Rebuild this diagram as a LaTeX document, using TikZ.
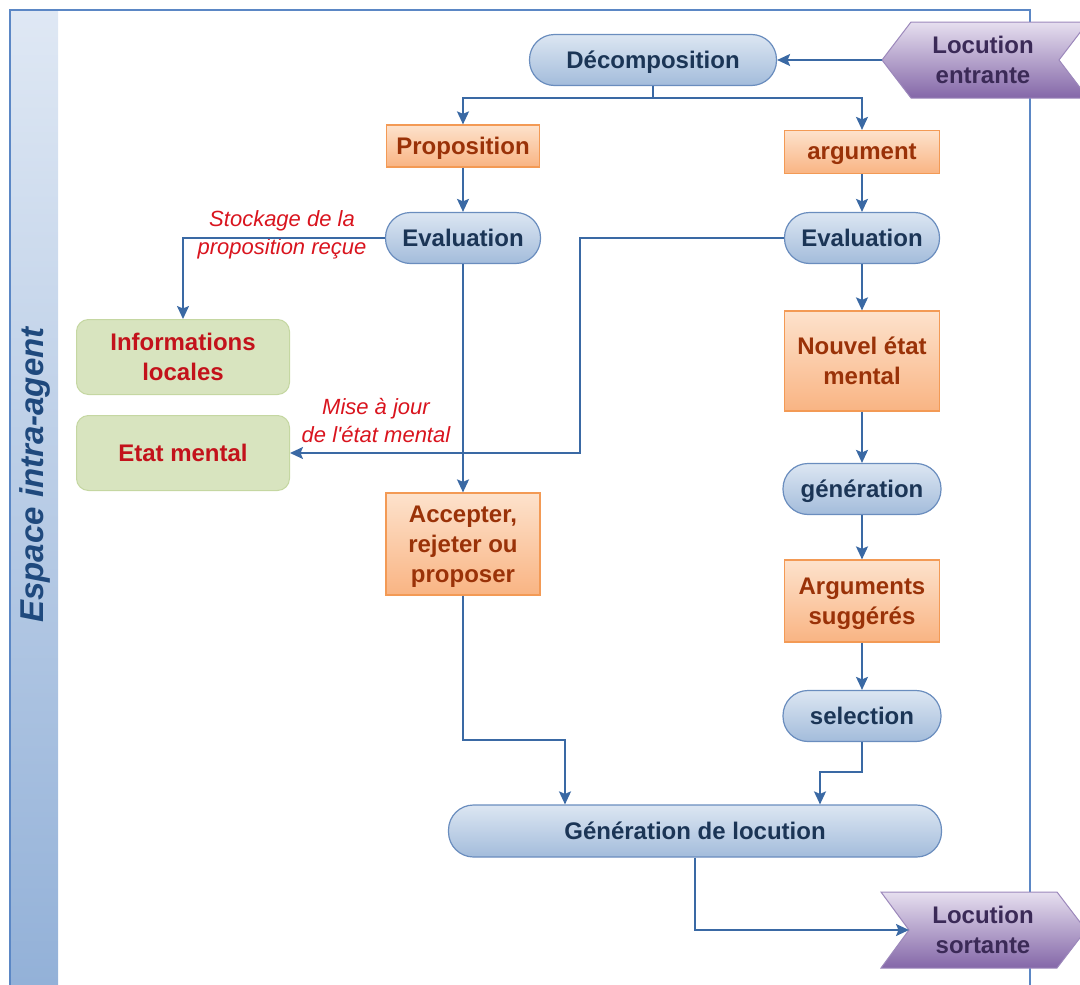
\documentclass[tikz,border=0pt]{standalone}
\usepackage{fontspec}
\setmainfont{Liberation Sans}
\usetikzlibrary{arrows.meta,calc}
\definecolor{framec}{HTML}{5B87C5}
\definecolor{bandtop}{HTML}{DFE8F4}
\definecolor{bandbot}{HTML}{93B1D8}
\definecolor{pilltop}{HTML}{DCE6F2}
\definecolor{pillbot}{HTML}{A3BCDB}
\definecolor{pillborder}{HTML}{6A8DBE}
\definecolor{pilltext}{HTML}{1B3556}
\definecolor{orgtop}{HTML}{FDE2CC}
\definecolor{orgbot}{HTML}{F9B483}
\definecolor{orgborder}{HTML}{F39A55}
\definecolor{orgtext}{HTML}{9A3208}
\definecolor{grnfill}{HTML}{D8E4BF}
\definecolor{grnborder}{HTML}{C5D7A2}
\definecolor{grntext}{HTML}{C3121B}
\definecolor{purtop}{HTML}{E6DFEF}
\definecolor{purbot}{HTML}{8467A8}
\definecolor{purborder}{HTML}{9C88BB}
\definecolor{purtext}{HTML}{3B2A57}
\definecolor{conncol}{HTML}{3A69A4}
\definecolor{lblcol}{HTML}{D9141E}
\definecolor{titlecol}{HTML}{1F497D}
\tikzset{
  boxfont/.style={font=\bfseries\fontsize{24}{30}\selectfont, align=center, inner sep=0pt, text depth=0pt},
  pill/.style={boxfont, draw=pillborder, line width=1.2pt, top color=pilltop, bottom color=pillbot, text=pilltext, rounded corners=25pt, minimum height=51pt},
  orgbox/.style={boxfont, draw=orgborder, line width=1.2pt, top color=orgtop, bottom color=orgbot, text=orgtext},
  grnbox/.style={boxfont, draw=grnborder, line width=1pt, fill=grnfill, text=grntext, rounded corners=12pt, minimum width=213pt, minimum height=75pt},
  purshape/.style={draw=purborder, line width=1pt, top color=purtop, bottom color=purbot},
  purtxt/.style={boxfont, text=purtext},
  conn/.style={draw=conncol, line width=1.8pt, -{Stealth[length=13pt,width=12pt,inset=2.5pt]}},
  lbl/.style={font=\itshape\fontsize{22}{28}\selectfont, text=lblcol, align=center, inner sep=0pt}
}
\begin{document}
\begin{tikzpicture}[x=1pt,y=-1pt]
\useasboundingbox (0,0) rectangle (1080,985);
% frame and side band
\fill[top color=bandtop, bottom color=bandbot] (10,10) rectangle (58,985);
\draw[framec, line width=1.3pt] (10,985) -- (10,10) -- (1030,10) -- (1030,985);
\node[rotate=90, font=\bfseries\itshape\fontsize{33}{36}\selectfont, text=titlecol] (title) at (35,475) {Espace intra-agent};

% purple input / output shapes
\path[purshape] (882,60) -- (911,22) -- (1088,22) -- (1059,60) -- (1088,98) -- (911,98) -- cycle;
\node[purtxt] (entr) at (983,60) {Locution\\entrante};
\coordinate (entip) at (882,60);
\path[purshape] (881,892) -- (1057,892) -- (1086,930) -- (1057,968) -- (881,968) -- (909,930) -- cycle;
\node[purtxt] (sort) at (983,930) {Locution\\sortante};
\coordinate (outtip) at (909,930);

% nodes
\node[pill, minimum width=247pt] (dec) at (653,60) {Décomposition};
\node[orgbox, minimum width=153pt, minimum height=42pt] (prop) at (463,146) {Proposition};
\node[orgbox, minimum width=155pt, minimum height=43pt] (arg) at (862,152) {argument};
\node[pill, minimum width=155pt] (evL) at (463,238) {Evaluation};
\node[pill, minimum width=155pt] (evR) at (862,238) {Evaluation};
\node[grnbox] (info) at (183,357) {Informations\\locales};
\node[grnbox] (etat) at (183,453) {Etat mental};
\node[orgbox, minimum width=154pt, minimum height=102pt] (acc) at (463,544) {Accepter,\\rejeter ou\\proposer};
\node[orgbox, minimum width=155pt, minimum height=100pt] (nouv) at (862,361) {Nouvel état\\mental};
\node[pill, minimum width=158pt] (gen) at (862,489) {génération};
\node[orgbox, minimum width=155pt, minimum height=82pt] (args) at (862,601) {Arguments\\suggérés};
\node[pill, minimum width=158pt] (sel) at (862,716) {selection};
\node[pill, minimum width=493pt, minimum height=52pt] (glo) at (695,831) {Génération de locution};

% labels
\node[lbl] (l1) at (282,235) {Stockage de la\\proposition reçue};
\node[lbl] (l2) at (376,421) {Mise à jour\\de l\textquotesingle état mental};

% connectors
\coordinate (j1) at (653,98);
\coordinate (k1) at (580,453);
\coordinate (k2) at (565,740);
\coordinate (k3) at (820,772);
\draw[conn] (entip) -- (dec.east);
\draw[conn] (dec.south) -- (j1) -| (prop.north);
\draw[conn] (j1) -| (arg.north);
\draw[conn] (prop.south) -- (evL.north);
\draw[conn] (arg.south) -- (evR.north);
\draw[conn] (evL.west) -| (info.north);
\draw[conn] (evR.west) -| (k1) -- (etat.east);
\draw[conn] (evL.south) -- (acc.north);
\draw[conn] (evR.south) -- (nouv.north);
\draw[conn] (nouv.south) -- (gen.north);
\draw[conn] (gen.south) -- (args.north);
\draw[conn] (args.south) -- (sel.north);
\draw[conn] (acc.south) |- (k2) -- (k2 |- glo.north);
\draw[conn] (sel.south) |- (k3) -- (k3 |- glo.north);
\draw[conn] (glo.south) |- (outtip);
\end{tikzpicture}
\end{document}
